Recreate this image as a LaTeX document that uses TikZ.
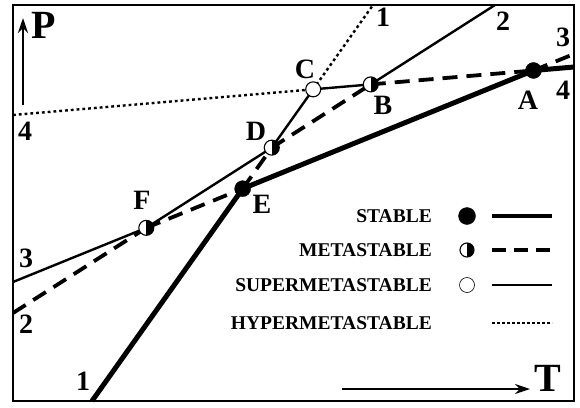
\documentclass[tikz,border=0pt]{standalone}
\usepackage{fontspec}
\setmainfont{Liberation Serif}
\usetikzlibrary{arrows.meta}
\begin{document}
\begin{tikzpicture}[x=1pt,y=-1pt,
  thickline/.style={line width=5pt},
  thinline/.style={line width=2.4pt},
  dashline/.style={line width=3.8pt, dash pattern=on 15pt off 9pt},
  dotline/.style={line width=2.4pt, dash pattern=on 2.8pt off 3pt},
  stablept/.style={circle, fill=black, draw=black, minimum size=16pt, inner sep=0pt},
  openpt/.style={circle, fill=white, draw=black, line width=1.1pt, minimum size=15pt, inner sep=0pt},
  halfpt/.style={circle, fill=white, draw=black, line width=1.1pt, minimum size=15pt, inner sep=0pt,
    path picture={\fill[black] (path picture bounding box.north) rectangle (path picture bounding box.south east);}},
  lbl/.style={font=\fontsize{28}{28}\selectfont\bfseries, inner sep=0pt},
  axlbl/.style={font=\fontsize{40}{40}\selectfont\bfseries, inner sep=0pt},
  legtext/.style={font=\fontsize{19.5}{19.5}\selectfont\bfseries, inner sep=0pt, anchor=east},
  axis/.style={line width=2pt, -{Stealth[length=15pt,width=10pt]}}
]
\useasboundingbox (0,0) rectangle (580,407);
\fill[white] (0,0) rectangle (580,407);
% frame
\coordinate (fr1) at (13,5);
\coordinate (fr2) at (574,401);
\draw[line width=1.6pt] (fr1) rectangle (fr2);
% line end points
\coordinate (l1b) at (92,401);
\coordinate (l1t) at (373,5);
\coordinate (l2l) at (13,313);
\coordinate (l2t) at (495,5);
\coordinate (l3l) at (13,282);
\coordinate (l3r) at (574,54);
\coordinate (l4l) at (13,115);
\coordinate (l4r) at (574,67);
% invariant points
\coordinate (A) at (intersection of l3l--l3r and l4l--l4r);
\coordinate (B) at (intersection of l2l--l2t and l4l--l4r);
\coordinate (C) at (intersection of l1b--l1t and l4l--l4r);
\coordinate (D) at (intersection of l1b--l1t and l2l--l2t);
\coordinate (E) at (intersection of l1b--l1t and l3l--l3r);
\coordinate (F) at (intersection of l2l--l2t and l3l--l3r);
% line 1
\draw[thickline] (l1b) -- (E);
\draw[dashline] (E) -- (D);
\draw[thinline] (D) -- (C);
\draw[dotline] (C) -- (l1t);
% line 2
\draw[dashline] (l2l) -- (F);
\draw[thinline] (F) -- (D);
\draw[dashline] (D) -- (B);
\draw[thinline] (B) -- (l2t);
% line 3
\draw[thinline] (l3l) -- (F);
\draw[dashline] (F) -- (E);
\draw[thickline] (E) -- (A);
\draw[dashline] (A) -- (l3r);
% line 4
\draw[dotline] (l4l) -- (C);
\draw[thinline] (C) -- (B);
\draw[dashline] (B) -- (A);
\draw[thickline] (A) -- (l4r);
% points
\node[stablept] (pA) at (A) {};
\node[halfpt] (pB) at (B) {};
\node[openpt] (pC) at (C) {};
\node[halfpt] (pD) at (D) {};
\node[stablept] (pE) at (E) {};
\node[halfpt] (pF) at (F) {};
% point labels
\node[lbl] (tA) at (528,100) {A};
\node[lbl] (tB) at (383,105) {B};
\node[lbl] (tC) at (305,69) {C};
\node[lbl] (tD) at (256,131) {D};
\node[lbl] (tE) at (262,204) {E};
\node[lbl] (tF) at (142,200) {F};
% line number labels
\node[lbl] (n1t) at (383,17) {1};
\node[lbl] (n2t) at (503,21) {2};
\node[lbl] (n3r) at (563,37) {3};
\node[lbl] (n4r) at (563,90) {4};
\node[lbl] (n4l) at (25,131) {4};
\node[lbl] (n3l) at (26,258) {3};
\node[lbl] (n2l) at (26,324) {2};
\node[lbl] (n1b) at (83,381) {1};
% axes
\coordinate (pa0) at (23,105);
\coordinate (pa1) at (23,18);
\draw[axis] (pa0) -- (pa1);
\node[axlbl] (P) at (44,25) {P};
\coordinate (ta0) at (342,389);
\coordinate (ta1) at (530,389);
\draw[axis] (ta0) -- (ta1);
\node[axlbl] (T) at (548,378) {T};
% legend
\node[legtext] (g1) at (432,216) {STABLE};
\node[legtext] (g2) at (432,250) {METASTABLE};
\node[legtext] (g3) at (432,285) {SUPERMETASTABLE};
\node[legtext] (g4) at (432,323) {HYPERMETASTABLE};
\node[stablept, minimum size=17pt] (c1) at (467,216) {};
\node[halfpt, minimum size=14pt] (c2) at (467,250) {};
\node[openpt, minimum size=15pt, line width=0.6pt] (c3) at (467,285) {};
\coordinate (s1a) at (492,216); \coordinate (s1b) at (552,216);
\coordinate (s2a) at (492,250); \coordinate (s2b) at (550,250);
\coordinate (s3a) at (492,285); \coordinate (s3b) at (552,285);
\coordinate (s4a) at (492,323); \coordinate (s4b) at (552,323);
\draw[line width=4pt] (s1a) -- (s1b);
\draw[line width=3.2pt, dash pattern=on 14pt off 8pt] (s2a) -- (s2b);
\draw[line width=2.6pt] (s3a) -- (s3b);
\draw[line width=2pt, dash pattern=on 2.5pt off 2.5pt] (s4a) -- (s4b);
\end{tikzpicture}
\end{document}
